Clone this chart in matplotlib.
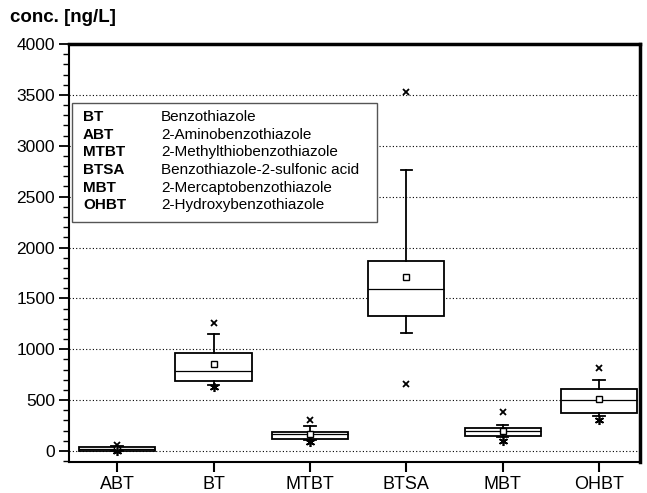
import matplotlib
matplotlib.use("Agg")
import matplotlib.pyplot as plt
from matplotlib.patches import Rectangle
from matplotlib.ticker import MultipleLocator

plt.rcParams["font.family"] = ["Liberation Sans", "DejaVu Sans"]

# box statistics (ng/L)
compounds = ["ABT", "BT", "MTBT", "BTSA", "MBT", "OHBT"]
q1 = [2, 686, 120, 1324, 152, 375]
median = [20, 787, 165, 1592, 195, 500]
q3 = [38, 967, 187, 1869, 226, 605]
whislo = [0, 650, 110, 1160, 138, 345]
whishi = [45, 1148, 248, 2762, 252, 697]
means = [22, 855, 168, 1706, 196, 507]
maxima = [62, 1262, 303, 3532, 382, 812]
minima = [2, 628, 92, 663, 95, 309]
minima_kind = ["star", "star", "star", "x", "star", "star"]

legend_abbr = ["BT", "ABT", "MTBT", "BTSA", "MBT", "OHBT"]
legend_name = ["Benzothiazole", "2-Aminobenzothiazole", "2-Methylthiobenzothiazole",
               "Benzothiazole-2-sulfonic acid", "2-Mercaptobenzothiazole",
               "2-Hydroxybenzothiazole"]

W, H = 647, 493
fig = plt.figure(figsize=(W / 100, H / 100), dpi=100)
ax = fig.add_axes([69 / W, 31 / H, 571 / W, 418 / H])

stats = []
for i, name in enumerate(compounds):
    stats.append(dict(label=name, q1=q1[i], med=median[i], q3=q3[i],
                      whislo=whislo[i], whishi=whishi[i], fliers=[]))
pos = list(range(1, len(compounds) + 1))
ax.bxp(stats, positions=pos, widths=0.79, showfliers=False, patch_artist=True,
       boxprops=dict(facecolor="white", edgecolor="black", linewidth=1.3),
       medianprops=dict(color="black", linewidth=0.9),
       whiskerprops=dict(color="black", linewidth=1.3),
       capprops=dict(color="black", linewidth=1.3),
       capwidths=0.12, zorder=3)

ax.plot(pos, means, ls="none", marker="s", ms=5, mfc="white", mec="black",
        mew=1.0, zorder=4)
ax.plot(pos, maxima, ls="none", marker="x", ms=5, color="black", mew=1.3, zorder=4)
star_pos = [p for p, k in zip(pos, minima_kind) if k == "star"]
star_val = [v for v, k in zip(minima, minima_kind) if k == "star"]
x_pos = [p for p, k in zip(pos, minima_kind) if k == "x"]
x_val = [v for v, k in zip(minima, minima_kind) if k == "x"]
ax.plot(star_pos, star_val, ls="none", marker=(6, 2, 0), ms=6.5, color="black",
        mew=1.2, zorder=4)
ax.plot(x_pos, x_val, ls="none", marker="x", ms=5, color="black", mew=1.3, zorder=4)

ax.set_xlim(0.5, 6.425)
ax.set_ylim(-108, 4000)
ax.yaxis.set_major_locator(MultipleLocator(500))
ax.yaxis.set_minor_locator(MultipleLocator(100))
ax.set_xticks(pos)
ax.set_xticklabels(compounds, fontsize=13)
ax.tick_params(axis="y", which="major", direction="out", length=7, width=1.3,
               labelsize=12.5, pad=3)
ax.tick_params(axis="y", which="minor", direction="out", length=4, width=1.0)
ax.tick_params(axis="x", which="major", direction="out", length=7, width=1.5, pad=3)
ax.grid(axis="y", which="major", color="black", linestyle=(0, (1, 2)),
        linewidth=0.8, zorder=0)
for side in ["left", "bottom"]:
    ax.spines[side].set_linewidth(1.5)
for side in ["top", "right"]:
    ax.spines[side].set_linewidth(2.5)

# legend box
x0, y0, x1, y1 = 72, 103, 377, 222
fig.patches.append(Rectangle((x0 / W, 1 - y1 / H), (x1 - x0) / W, (y1 - y0) / H,
                             transform=fig.transFigure, facecolor="white",
                             edgecolor="#555555", linewidth=1.0, zorder=5))
row_y = 117
for abbr, name in zip(legend_abbr, legend_name):
    fig.text(83 / W, 1 - row_y / H, abbr, fontsize=11, fontweight="bold",
             va="center", ha="left", zorder=6)
    fig.text(161 / W, 1 - row_y / H, name, fontsize=11, va="center", ha="left",
             zorder=6)
    row_y += 17.7

fig.text(10 / W, 1 - 18 / H, "conc. [ng/L]", fontsize=13.5, fontweight="bold",
         va="center", ha="left")

fig.savefig("out.png", dpi=100)
